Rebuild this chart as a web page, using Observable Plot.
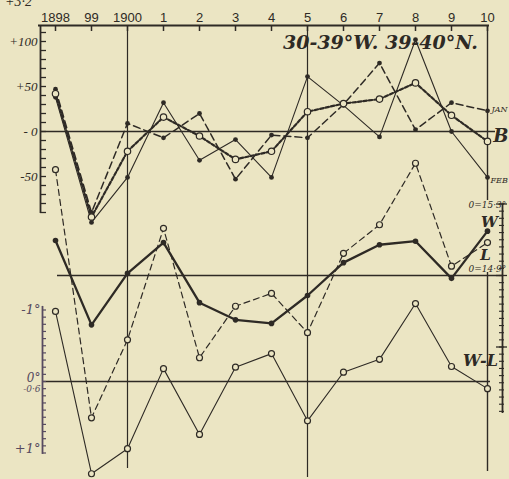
<!DOCTYPE html>
<html><head><meta charset="utf-8">
<script src="https://cdn.jsdelivr.net/npm/d3@7"></script>
<script src="https://cdn.jsdelivr.net/npm/@observablehq/plot@0.6"></script>
<style>
html,body{margin:0;padding:0;background:#ebe5c3;}
#chart{width:509px;height:479px;overflow:hidden;}
</style></head><body><div id="chart"></div>
<script>
// ---- data ----
const years = [1898,1899,1900,1901,1902,1903,1904,1905,1906,1907,1908,1909,1910];
const yearLabels = ["1898","99","1900","1","2","3","4","5","6","7","8","9","10"];
const jan = [47,-90,9,-7,20,-53,-4,-7,30,76,2,32,23];
const feb = [38,-101,-51,32,-32,-9,-51,61,29,-6,102,0,-51];
const bMean = [42,-95,-22,16,-5,-31,-22,22,31,36,54,18,-11];
const wTemp = [0.49,-0.69,0.03,0.46,-0.38,-0.62,-0.67,-0.28,0.18,0.43,0.48,-0.04,0.62];
const lTemp = [1.48,-1.99,-0.90,0.66,-1.15,-0.43,-0.25,-0.80,0.31,0.71,1.57,0.13,0.46];
const wMinusL = [-0.98,1.29,0.94,-0.18,0.74,-0.20,-0.39,0.55,-0.13,-0.31,-1.09,-0.21,0.10];
const topTickValues = [110,100,90,80,70,60,50,40,30,20,10,0,-10,-20,-30,-40,-50,-60,-70,-80,-90];
const topLabelValues = [100,50,0,-50];
const topLabelText = ["+100","+50","- 0","-50"];
const degTicks = [-1,-0.9,-0.8,-0.7,-0.6,-0.5,-0.4,-0.3,-0.2,-0.1,0,0.1,0.2,0.3,0.4,0.5,0.6,0.7,0.8,0.9,1];
const rightTicks = [1,0.9,0.8,0.7,0.6,0.5,0.4,0.3,0.2,0.1,0,-0.1,-0.2,-0.3,-0.4,-0.5,-0.6,-0.7,-0.8,-0.9,-1,-1.1,-1.2,-1.3,-1.4,-1.5,-1.6,-1.7,-1.8,-1.9];

// ---- layout helpers (pixel -> scale units) ----
const W = 509, H = 479;
const xAt = px => 1898 + (px - 55) / 36;
const yAt = py => (131 - py) / 0.9;
const mid = d => yAt(275 - 71.5 * d);   // W / L panel, positive up
const low = d => yAt(381 + 71.5 * d);   // W-L panel, positive down

const rows = years.map((yr, i) => ({yr, jan: jan[i], feb: feb[i], b: bMean[i], w: wTemp[i], l: lTemp[i], wl: wMinusL[i]}));

const INK = "#2e2a25", BG = "#ebe5c3", PURPLE = "#574b60";
const SERIF = "DejaVu Serif";

const txt = (t, px, py, o = {}) => Plot.text([t], {x: xAt(px), y: yAt(py), text: d => d, fill: INK, fontFamily: SERIF, ...o});

const chart = Plot.plot({
  width: W, height: H,
  marginLeft: 40, marginRight: 7, marginTop: 25, marginBottom: 19,
  x: {domain: [xAt(40), xAt(502)], axis: null},
  y: {domain: [yAt(460), yAt(25)], axis: null},
  style: {background: BG, overflow: "visible"},
  marks: [
    // top year axis
    Plot.ruleY([yAt(25)], {x1: xAt(38), x2: xAt(489), stroke: INK, strokeWidth: 1.8}),
    Plot.ruleX(years, {x: d => d, y1: yAt(25), y2: yAt(31), stroke: INK, strokeWidth: 1.5}),
    Plot.text(years, {x: d => d, y: yAt(25), text: (d, i) => yearLabels[i], dy: -8, fontSize: 13, fontFamily: "Liberation Sans", fill: INK}),
    // top panel left axis
    Plot.ruleX([xAt(40)], {y1: yAt(25), y2: yAt(213), stroke: INK, strokeWidth: 1.8}),
    Plot.ruleY(topTickValues, {y: d => d, x1: xAt(40), x2: xAt(46), stroke: INK, strokeWidth: 1.3}),
    Plot.text(topLabelValues, {x: xAt(40), y: d => d, text: (d, i) => topLabelText[i], dx: -3, textAnchor: "end", fontSize: 13, fontStyle: "italic", fontFamily: "Liberation Serif", fill: INK}),
    // vertical guide lines
    Plot.ruleX([1900], {y1: yAt(25), y2: yAt(468), stroke: INK, strokeWidth: 1.2}),
    Plot.ruleX([1905], {y1: yAt(25), y2: yAt(477), stroke: INK, strokeWidth: 1.2}),
    Plot.ruleX([1910], {y1: yAt(25), y2: yAt(200), stroke: INK, strokeWidth: 1.4}),
    Plot.ruleX([1910], {y1: yAt(272), y2: yAt(471), stroke: INK, strokeWidth: 1.4}),
    // zero lines
    Plot.ruleY([0], {x1: xAt(40), x2: xAt(495), stroke: INK, strokeWidth: 1.4}),
    Plot.ruleY([mid(0)], {x1: xAt(57), x2: xAt(503), stroke: INK, strokeWidth: 1.4}),
    Plot.ruleY([low(0)], {x1: xAt(42), x2: xAt(490), stroke: INK, strokeWidth: 1.4}),
    // right degree axis
    Plot.ruleX([xAt(502)], {y1: mid(1), y2: mid(-1.93), stroke: INK, strokeWidth: 1.8}),
    Plot.ruleY(rightTicks, {y: d => mid(d), x1: xAt(499), x2: xAt(504), stroke: INK, strokeWidth: 1.1}),
    Plot.ruleY([1, 0, -1], {y: d => mid(d), x1: xAt(496), x2: xAt(507), stroke: INK, strokeWidth: 1.3}),
    // lower left degree axis
    Plot.ruleX([xAt(42)], {y1: low(-1.05), y2: low(1.02), stroke: PURPLE, strokeWidth: 1.8}),
    Plot.ruleY(degTicks, {y: d => low(d), x1: xAt(42), x2: xAt(46), stroke: PURPLE, strokeWidth: 1.2}),

    // top panel series
    Plot.line(rows, {x: "yr", y: "feb", stroke: INK, strokeWidth: 1.1}),
    Plot.line(rows, {x: "yr", y: "jan", stroke: INK, strokeWidth: 1.5, strokeDasharray: "7,4"}),
    Plot.line(rows, {x: "yr", y: "b", stroke: INK, strokeWidth: 2.2, strokeDasharray: "3.5,2"}),
    Plot.dot(rows, {x: "yr", y: "feb", r: 2.4, fill: INK, stroke: "none"}),
    Plot.dot(rows, {x: "yr", y: "jan", r: 2.4, fill: INK, stroke: "none"}),
    Plot.dot(rows, {x: "yr", y: "b", r: 3.2, fill: BG, stroke: INK, strokeWidth: 1.2}),

    // middle panel: W and L
    Plot.line(rows, {x: "yr", y: d => mid(d.l), stroke: INK, strokeWidth: 1.2, strokeDasharray: "6,4"}),
    Plot.line(rows, {x: "yr", y: d => mid(d.w), stroke: INK, strokeWidth: 2.3}),
    Plot.dot(rows, {x: "yr", y: d => mid(d.l), r: 3, fill: BG, stroke: INK, strokeWidth: 1.2}),
    Plot.dot(rows, {x: "yr", y: d => mid(d.w), r: 2.8, fill: INK, stroke: "none"}),

    // lower panel: W-L
    Plot.line(rows, {x: "yr", y: d => low(d.wl), stroke: INK, strokeWidth: 1.1}),
    Plot.dot(rows, {x: "yr", y: d => low(d.wl), r: 3, fill: BG, stroke: INK, strokeWidth: 1.2}),

    // annotations
    txt("30-39°W. 39-40°N.", 380, 42, {fontSize: 19, fontWeight: "bold", fontStyle: "italic"}),
    txt("JAN", 491, 109, {fontSize: 8, fontStyle: "italic", textAnchor: "start"}),
    txt("B", 508, 136, {fontSize: 18, fontWeight: "bold", fontStyle: "italic", textAnchor: "end"}),
    txt("FEB", 490, 180, {fontSize: 8, fontStyle: "italic", textAnchor: "start"}),
    txt("0=15·3°", 468, 205, {fontSize: 9, fontStyle: "italic", textAnchor: "start"}),
    txt("W", 489, 222, {fontSize: 15, fontWeight: "bold", fontStyle: "italic"}),
    txt("L", 485, 255, {fontSize: 15, fontWeight: "bold", fontStyle: "italic"}),
    txt("0=14·9°", 468, 269, {fontSize: 9, fontStyle: "italic", textAnchor: "start"}),
    txt("W-L", 480, 360, {fontSize: 16, fontWeight: "bold", fontStyle: "italic"}),
    txt("-1°", 40, 309, {fontSize: 13, fontStyle: "italic", textAnchor: "end", fill: PURPLE}),
    txt("0°", 40, 378, {fontSize: 12, fontStyle: "italic", textAnchor: "end", fill: PURPLE}),
    txt("-0·6", 40, 389, {fontSize: 9, fontStyle: "italic", textAnchor: "end", fill: PURPLE}),
    txt("+1°", 40, 448, {fontSize: 13, fontStyle: "italic", textAnchor: "end", fill: PURPLE}),
    txt("+3·2", 18, 1, {fontSize: 14, fontStyle: "italic", fontFamily: "Liberation Serif"})
  ]
});
document.getElementById("chart").appendChild(chart);
</script></body></html>
